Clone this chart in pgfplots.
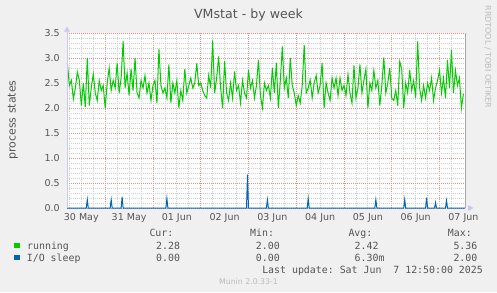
\documentclass[border=0pt]{standalone}
\usepackage{fontspec}
\setmainfont{DejaVu Sans}
\newfontfamily\mono{DejaVu Sans Mono}
\usepackage{pgfplots}
\pgfplotsset{compat=1.18}
\definecolor{bg}{HTML}{F0F0F0}
\definecolor{runc}{HTML}{00CC00}
\definecolor{ioc}{HTML}{0066B3}
\definecolor{majg}{HTML}{EE8E8E}
\definecolor{ming}{HTML}{CFCFCF}
\definecolor{txt}{HTML}{555555}
\definecolor{faint}{HTML}{BBBBBB}
\definecolor{axc}{HTML}{C8C8F0}
\begin{document}
\begin{tikzpicture}[x=1pt,y=1pt]
\fill[bg] (0,0) rectangle (497,292);
\begin{axis}[
  at={(67pt,84pt)}, anchor=south west, scale only axis,
  width=398pt, height=175pt,
  xmin=4.8, xmax=204.8, ymin=0, ymax=3.5,
  clip=false,
  axis background/.style={fill=white},
  axis line style={draw=none},
  xtick={24,48,72,96,120,144,168,192}, xticklabels={},
  extra x ticks={12,36,60,84,108,132,156,180,204},
  extra x tick labels={30 May,31 May,01 Jun,02 Jun,03 Jun,04 Jun,05 Jun,06 Jun,07 Jun},
  extra x tick style={grid=none},
  minor xtick={6,12,18,30,36,42,54,60,66,78,84,90,102,108,114,126,132,138,150,156,162,174,180,186,198},
  ytick={0,0.5,...,3.5},
  minor y tick num=4,
  grid=both,
  major grid style={draw=majg, dash pattern=on 1pt off 1pt, line width=0.8pt},
  minor grid style={draw=ming, dash pattern=on 1pt off 1pt, line width=0.8pt},
  major tick length=0pt, minor tick length=0pt,
  tick label style={font=\fontsize{9.5}{11}\selectfont, text=txt},
  /pgf/number format/assume math mode=true,
  yticklabel style={xshift=-3.8pt, /pgf/number format/fixed, /pgf/number format/fixed zerofill, /pgf/number format/precision=1},
  xticklabel style={yshift=-2pt},
]
\addplot[runc, line width=1pt] coordinates {
(5,2.90)(6,2.45)(7,2.55)(8,2.18)(9,2.40)(10,2.72)(11,2.55)(12,2.05)(13,2.50)(14,2.02)
(15,3.00)(16,2.05)(17,2.40)(18,2.68)(19,2.30)(20,2.15)(21,2.55)(22,2.35)(23,2.45)(24,2.00)
(25,2.50)(26,2.80)(27,2.35)(28,2.55)(29,2.40)(30,2.90)(31,2.30)(32,2.60)(33,3.34)(34,2.40)
(35,2.70)(36,2.25)(37,2.78)(38,2.35)(39,3.00)(40,2.30)(41,2.20)(42,2.55)(43,2.40)(44,2.65)
(45,2.30)(46,2.50)(47,2.15)(48,2.45)(49,2.55)(50,2.10)(51,3.18)(52,2.45)(53,2.30)(54,2.40)
(55,2.20)(56,2.87)(57,2.10)(58,2.50)(59,2.30)(60,2.55)(61,2.00)(62,2.35)(63,2.15)(64,2.78)
(65,2.30)(66,2.45)(67,2.60)(68,2.40)(69,2.50)(70,2.89)(71,2.45)(72,2.50)(73,2.35)(74,2.25)
(75,2.20)(76,2.65)(77,2.40)(78,3.35)(79,2.30)(80,2.60)(81,3.03)(82,2.40)(83,2.00)(84,2.94)
(85,2.30)(86,2.15)(87,2.50)(88,2.20)(89,2.73)(90,2.35)(91,2.45)(92,2.10)(93,2.55)(94,2.30)
(95,2.20)(96,2.76)(97,2.40)(98,2.55)(99,2.20)(100,2.45)(101,2.96)(102,2.25)(103,2.00)(104,2.50)
(105,2.35)(106,2.45)(107,2.20)(108,2.80)(109,2.30)(110,2.90)(111,2.00)(112,2.55)(113,3.23)(114,2.40)
(115,2.60)(116,2.20)(117,3.00)(118,2.45)(119,2.30)(120,2.05)(121,2.25)(122,2.10)(123,2.45)(124,3.26)
(125,2.30)(126,2.40)(127,2.56)(128,2.20)(129,2.50)(130,2.65)(131,2.30)(132,2.45)(133,2.90)(134,2.00)
(135,2.50)(136,2.30)(137,2.15)(138,2.60)(139,2.40)(140,2.60)(141,2.25)(142,2.60)(143,2.35)(144,2.45)
(145,2.25)(146,2.67)(147,2.30)(148,2.10)(149,2.85)(150,2.20)(151,2.40)(152,2.87)(153,2.30)(154,2.55)
(155,2.78)(156,2.00)(157,2.50)(158,2.35)(159,2.75)(160,2.40)(161,2.55)(162,2.05)(163,2.45)(164,3.01)
(165,2.30)(166,2.50)(167,2.80)(168,2.20)(169,2.15)(170,2.35)(171,2.05)(172,2.93)(173,2.78)(174,2.00)
(175,2.50)(176,2.30)(177,2.76)(178,2.35)(179,2.55)(180,2.20)(181,3.33)(182,2.40)(183,2.15)(184,2.45)
(185,2.20)(186,2.50)(187,2.35)(188,2.60)(189,2.15)(190,2.40)(191,2.55)(192,2.75)(193,2.30)(194,2.60)
(195,2.20)(196,2.96)(197,2.40)(198,3.16)(199,2.30)(200,2.75)(201,2.45)(202,2.60)(203,2.00)(204,2.28)
};
\addplot[ioc, line width=1pt] coordinates {
(4.8,0)(14.5,0)(15,0.167)(15.5,0)(26.5,0)(27,0.167)(27.5,0)(32,0)(32.5,0.22)(33,0)
(54.5,0)(55,0.19)(55.5,0)(95,0)(95.5,0.667)(96,0)(105,0)(105.5,0.167)(106,0)
(125.5,0)(126,0.19)(126.5,0)(159.5,0)(160,0.167)(160.5,0)(174,0)(174.5,0.167)(175,0)
(185,0)(185.5,0.207)(186,0)(189.5,0)(190,0.107)(190.5,0)(195,0)(195.5,0.147)(196,0)(204.8,0)
};
\end{axis}
% axis lines and arrows
\draw[axc, line width=0.8pt] (67,84) -- (67,260.5);
\fill[axc] (64,260.3) -- (70,260.3) -- (67,265.5) -- cycle;
\draw[gray!70, line width=0.8pt] (465,84) -- (465,259);
\fill[axc] (468,81) -- (468,87) -- (473.5,84) -- cycle;
% texts
\node[font=\fontsize{12.6}{14}\selectfont, text=txt, anchor=base, inner sep=0] at (248.5,273.7) {VMstat - by week};
\node[rotate=90, anchor=base, font=\fontsize{11}{13}\selectfont, text=txt, inner sep=0] at (15.5,172) {process states};
\node[rotate=-90, font=\fontsize{8}{9}\selectfont, text=faint, inner sep=0] at (488,235) {RRDTOOL / TOBI OETIKER};
\begin{scope}[every node/.style={font=\mono\fontsize{9.9}{11}\selectfont, text=txt, inner sep=0, anchor=base west}]
\node at (149.3,55.2) {Cur:};
\node at (250,55.2) {Min:};
\node at (348.3,55.2) {Avg:};
\node at (447.7,55.2) {Max:};
\node at (27,43) {running};
\node at (156,43) {2.28};
\node at (255.7,43) {2.00};
\node at (354.5,43) {2.42};
\node at (453.3,43) {5.36};
\node at (26.7,30.7) {I/O sleep};
\node at (156,30.7) {0.00};
\node at (255.7,30.7) {0.00};
\node at (354.5,30.7) {6.30m};
\node at (453.3,30.7) {2.00};
\node[anchor=base east] at (483,18.5) {Last update:~Sat~Jun~~7~12:50:00~2025};
\end{scope}
\fill[runc] (14,43.7) rectangle (20,49.3);
\fill[ioc] (14,31.7) rectangle (20,37);
\node[font=\fontsize{7.8}{9}\selectfont, text=faint, anchor=base, inner sep=0] at (248.5,7.7) {Munin 2.0.33-1};
\end{tikzpicture}
\end{document}
